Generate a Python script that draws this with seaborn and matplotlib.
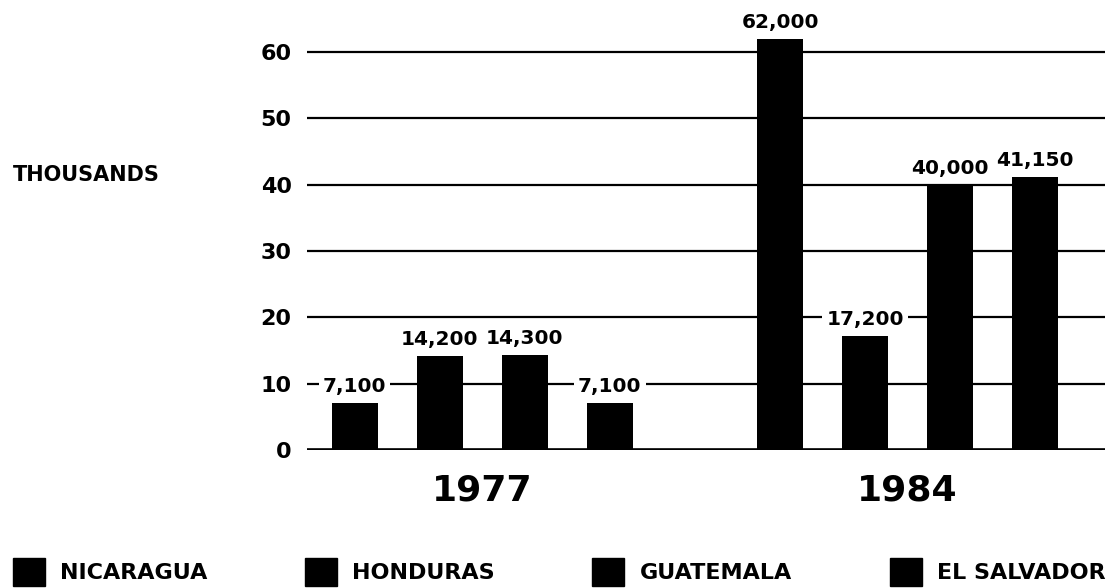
import numpy as np
import pandas as pd
import seaborn as sns
import matplotlib.pyplot as plt
from matplotlib.patches import Patch

# Data (thousands)
years = ["1977", "1984"]
countries = ["NICARAGUA", "HONDURAS", "GUATEMALA", "EL SALVADOR"]
vals_1977 = [7.1, 14.2, 14.3, 7.1]
vals_1984 = [62.0, 17.2, 40.0, 41.15]
y_ticks = [0, 10, 20, 30, 40, 50, 60]

# Long table for seaborn
df = pd.DataFrame({
    "year": np.repeat(years, len(countries)),
    "country": countries * len(years),
    "value": vals_1977 + vals_1984,
})

sns.set_theme(style="white")
plt.rcParams["font.family"] = ["DejaVu Sans"]
plt.rcParams["font.weight"] = "bold"
for key in ["text.color", "axes.labelcolor", "xtick.color", "ytick.color"]:
    plt.rcParams[key] = "black"

fig = plt.figure(figsize=(11.09, 5.88), dpi=100)
ax = fig.add_axes([0.2768, 0.2347, 0.7196, 0.7442])

# Bars
sns.barplot(data=df, x="year", y="value", hue="country", order=years,
            hue_order=countries, palette=["black"] * 4, saturation=1,
            width=0.8, gap=0.46, linewidth=0, legend=False, ax=ax, zorder=3)

# Value labels, white box cuts the grid line
for cont, cname in zip(ax.containers, countries):
    vals = df[df["country"] == cname]["value"].tolist()
    labs = [f"{int(round(v * 1000)):,}" for v in vals]
    ax.bar_label(cont, labels=labs, padding=5, fontsize=14.5,
                 fontweight="bold", color="black", zorder=4,
                 bbox=dict(boxstyle="square,pad=0.2", fc="white", ec="none"))

# Axes styling
ax.set_xlim(-0.412, 1.464)
ax.set_ylim(0, 66)
ax.set_yticks(y_ticks)
ax.set_yticklabels([str(t) for t in y_ticks], fontsize=16, fontweight="bold")
ax.set_xticks(range(len(years)))
ax.set_xticklabels(years, fontsize=26, fontweight="bold")
ax.tick_params(axis="y", length=0, pad=11, colors="black")
ax.tick_params(axis="x", length=0, pad=17, colors="black")
ax.set_xlabel("")
ax.set_ylabel("THOUSANDS", rotation=0, fontsize=15, fontweight="bold",
              ha="left", va="center", color="black")
ax.yaxis.set_label_coords(-0.368, 0.628)

ax.set_axisbelow(True)
ax.yaxis.grid(True, color="black", linewidth=1.6)
ax.axhline(0, color="black", linewidth=2.6, zorder=2)
sns.despine(ax=ax, left=True, bottom=True)

# Legend
handles = [Patch(facecolor="black", edgecolor="black") for _ in countries]
fig.legend(handles, countries, loc="center", ncol=4,
           bbox_to_anchor=(559 / 1109, 1 - 572 / 588), frameon=False,
           prop={"size": 16, "weight": "bold"}, handlelength=1.44,
           handleheight=1.5, handletextpad=0.68, columnspacing=4.4,
           borderpad=0, labelcolor="black")

fig.savefig("out.png", dpi=100)
